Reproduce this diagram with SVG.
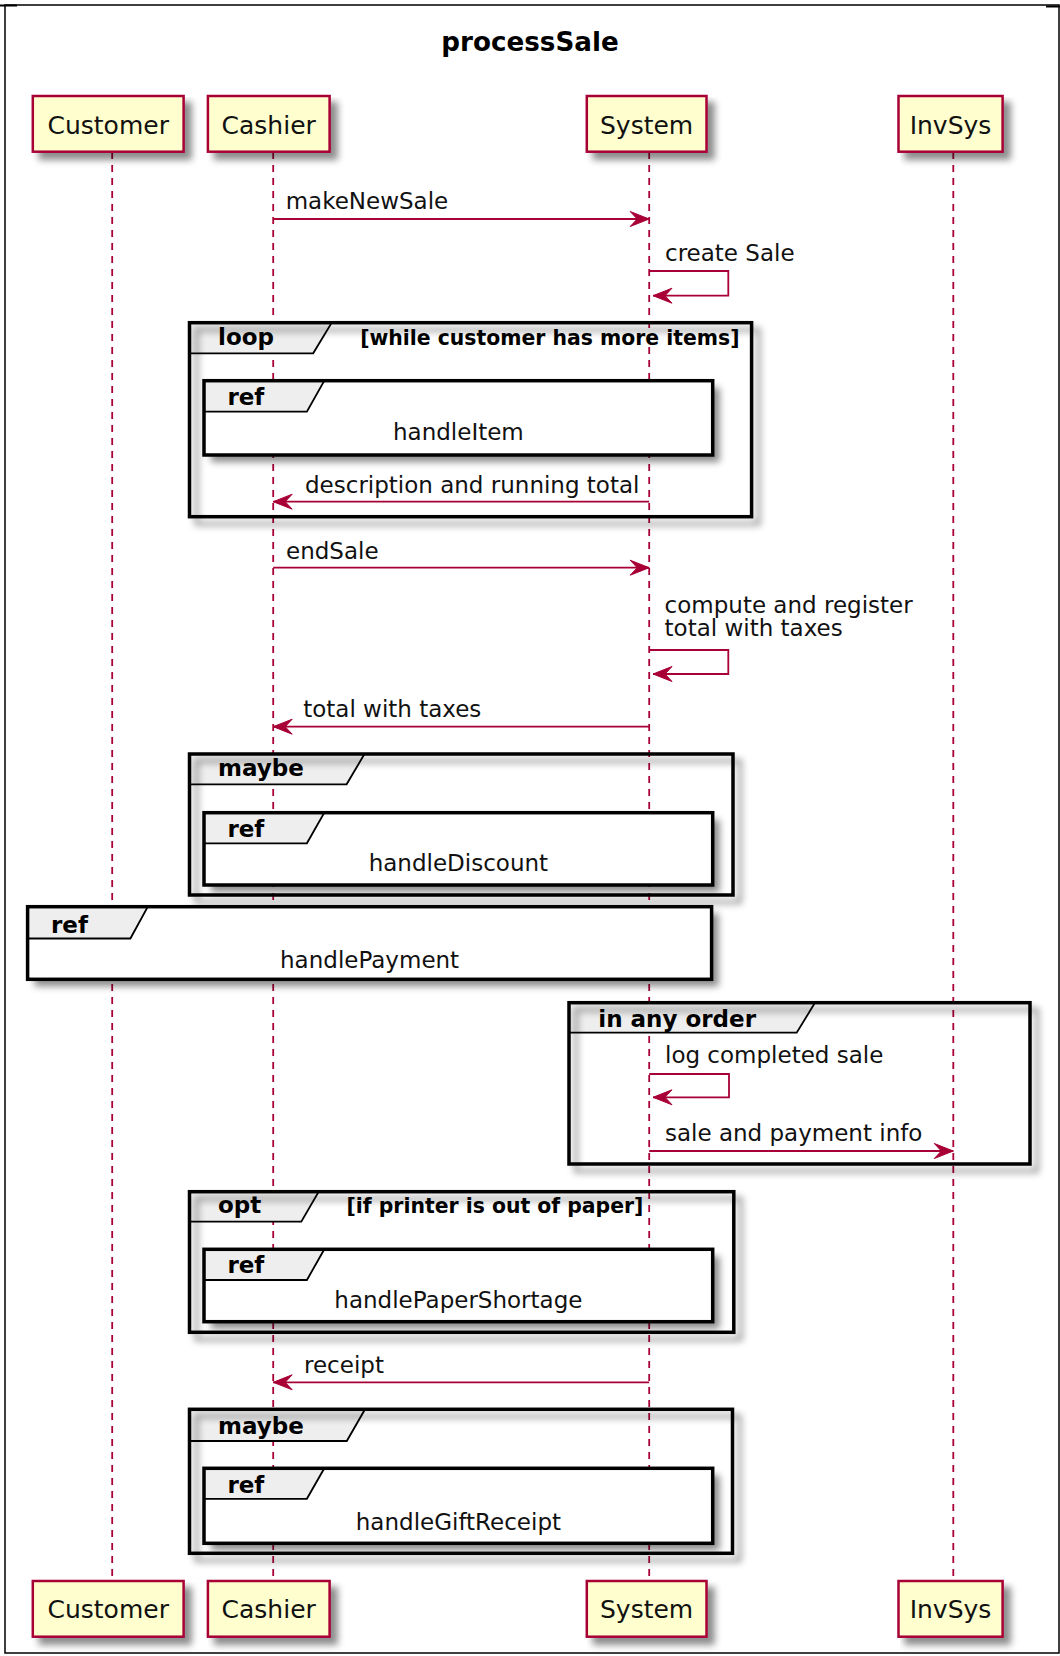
<svg xmlns="http://www.w3.org/2000/svg" width="1060" height="1656" viewBox="0 0 1060 1656">
<defs>
<filter id="sh" x="-5%" y="-10%" width="120%" height="140%">
<feGaussianBlur in="SourceAlpha" stdDeviation="3.5"/>
<feOffset dx="7" dy="7" result="b"/>
<feFlood flood-color="#000" flood-opacity="0.45"/>
<feComposite in2="b" operator="in"/>
<feMerge><feMergeNode/><feMergeNode in="SourceGraphic"/></feMerge>
</filter>
<marker id="ah" markerUnits="userSpaceOnUse" markerWidth="22" markerHeight="18" viewBox="-20 -9 22 18" refX="0" refY="0" orient="auto">
<path d="M0,0 L-19,-7.5 L-12,0 L-19,7.5 Z" fill="#A80036" stroke="#A80036" stroke-width="1"/>
</marker>
</defs>
<style>
.pbox{fill:#FEFECE;stroke:#A80036;stroke-width:2.5}
.ptxt{font-family:"DejaVu Sans",sans-serif;font-size:25px;fill:#111;text-anchor:middle}
.life{stroke:#A80036;stroke-width:1.8;stroke-dasharray:7,6;fill:none}
.msg{stroke:#A80036;stroke-width:1.8;fill:none;marker-end:url(#ah)}
.mtxt{font-family:"DejaVu Sans",sans-serif;font-size:23px;fill:#111}
.frame{fill:none;stroke:#000;stroke-width:3.5}
.reff{fill:#fff;stroke:none}
.tab{fill:#EEEEEE;stroke:#000;stroke-width:1.8}
.gl{font-family:"DejaVu Sans",sans-serif;font-weight:bold;font-size:23px;fill:#000}
.cond{font-family:"DejaVu Sans",sans-serif;font-weight:bold;font-size:20.4px;fill:#000}
.rtxt{font-family:"DejaVu Sans",sans-serif;font-size:23px;fill:#111;text-anchor:middle}
.title{font-family:"DejaVu Sans",sans-serif;font-weight:bold;font-size:26.2px;fill:#000;text-anchor:middle}
</style>
<g id="diagram-frame">
<rect x="5" y="5" width="1054" height="1648" fill="#fff" stroke="#000" stroke-width="1.5"/>
<line x1="0" y1="5.5" x2="17" y2="5.5" stroke="#000" stroke-width="2"/>
<line x1="1046" y1="6.5" x2="1060" y2="6.5" stroke="#000" stroke-width="2"/>
</g>
<g id="title"><text class="title" x="530" y="50.7">processSale</text></g>
<g id="lifelines">
<line class="life" x1="112.2" y1="152" x2="112.2" y2="1581"/>
<line class="life" x1="273.2" y1="152" x2="273.2" y2="1581"/>
<line class="life" x1="649.2" y1="152" x2="649.2" y2="1581"/>
<line class="life" x1="953.3" y1="152" x2="953.3" y2="1581"/>
</g>
<g id="customer">
<rect class="pbox" filter="url(#sh)" x="32.8" y="96" width="150.8" height="55.7"/>
<text class="ptxt" x="108.2" y="133.5">Customer</text>
<rect class="pbox" filter="url(#sh)" x="32.8" y="1581" width="150.8" height="55.7"/>
<text class="ptxt" x="108.2" y="1617.5">Customer</text>
</g>
<g id="cashier">
<rect class="pbox" filter="url(#sh)" x="207.9" y="96" width="121.7" height="55.7"/>
<text class="ptxt" x="268.7" y="133.5">Cashier</text>
<rect class="pbox" filter="url(#sh)" x="207.9" y="1581" width="121.7" height="55.7"/>
<text class="ptxt" x="268.7" y="1617.5">Cashier</text>
</g>
<g id="system">
<rect class="pbox" filter="url(#sh)" x="586.8" y="96" width="119.7" height="55.7"/>
<text class="ptxt" x="646.6" y="133.5">System</text>
<rect class="pbox" filter="url(#sh)" x="586.8" y="1581" width="119.7" height="55.7"/>
<text class="ptxt" x="646.6" y="1617.5">System</text>
</g>
<g id="invsys">
<rect class="pbox" filter="url(#sh)" x="898.5" y="96" width="104.1" height="55.7"/>
<text class="ptxt" x="950.5" y="133.5">InvSys</text>
<rect class="pbox" filter="url(#sh)" x="898.5" y="1581" width="104.1" height="55.7"/>
<text class="ptxt" x="950.5" y="1617.5">InvSys</text>
</g>
<g id="loop-group">
<path class="tab" d="M189.5,322.7 H331.7 L313.2,353.3 H189.5 Z"/>
<rect class="frame" filter="url(#sh)" x="189.5" y="322.7" width="562.1" height="194"/>
<text class="gl" x="218" y="345">loop</text>
<text class="cond" x="360.2" y="345">[while customer has more items]</text>
</g>
<g id="ref-handleItem">
<rect class="reff" filter="url(#sh)" x="204" y="380.7" width="508.7" height="74.3"/>
<path class="tab" d="M204,380.7 H324.3 L306.9,411.7 H204 Z"/>
<rect class="frame" x="204" y="380.7" width="508.7" height="74.3"/>
<text class="gl" x="227.4" y="405">ref</text>
<text class="rtxt" x="458.4" y="440">handleItem</text>
</g>
<g id="maybe-group-1">
<path class="tab" d="M189.5,754 H364.5 L346.6,784.3 H189.5 Z"/>
<rect class="frame" filter="url(#sh)" x="189.5" y="754" width="543.5" height="141"/>
<text class="gl" x="218" y="776">maybe</text>
</g>
<g id="ref-handleDiscount">
<rect class="reff" filter="url(#sh)" x="204" y="812.7" width="508.7" height="72.3"/>
<path class="tab" d="M204,812.7 H324.3 L306.9,843.3 H204 Z"/>
<rect class="frame" x="204" y="812.7" width="508.7" height="72.3"/>
<text class="gl" x="227.4" y="836.7">ref</text>
<text class="rtxt" x="458.4" y="871">handleDiscount</text>
</g>
<g id="ref-handlePayment">
<rect class="reff" filter="url(#sh)" x="27.6" y="906.7" width="684" height="72.6"/>
<path class="tab" d="M27.6,906.7 H147.8 L130.4,938.5 H27.6 Z"/>
<rect class="frame" x="27.6" y="906.7" width="684" height="72.6"/>
<text class="gl" x="51" y="933">ref</text>
<text class="rtxt" x="369.6" y="968.3">handlePayment</text>
</g>
<g id="any-order-group">
<path class="tab" d="M569,1002.7 H815 L796.7,1032.7 H569 Z"/>
<rect class="frame" filter="url(#sh)" x="569" y="1002.7" width="461" height="161.3"/>
<text class="gl" x="598.3" y="1026.7">in any order</text>
</g>
<g id="opt-group">
<path class="tab" d="M189.5,1191.7 H318.7 L301.3,1221.7 H189.5 Z"/>
<rect class="frame" filter="url(#sh)" x="189.5" y="1191.7" width="544.3" height="140.6"/>
<text class="gl" x="218" y="1213.3">opt</text>
<text class="cond" x="346.5" y="1213.3">[if printer is out of paper]</text>
</g>
<g id="ref-handlePaperShortage">
<rect class="reff" filter="url(#sh)" x="204" y="1249.3" width="508.7" height="72.4"/>
<path class="tab" d="M204,1249.3 H324.3 L306.9,1280 H204 Z"/>
<rect class="frame" x="204" y="1249.3" width="508.7" height="72.4"/>
<text class="gl" x="227.4" y="1272.7">ref</text>
<text class="rtxt" x="458.4" y="1307.7">handlePaperShortage</text>
</g>
<g id="maybe-group-2">
<path class="tab" d="M189.5,1409.3 H365 L346.8,1441 H189.5 Z"/>
<rect class="frame" filter="url(#sh)" x="189.5" y="1409.3" width="543" height="144"/>
<text class="gl" x="218" y="1434">maybe</text>
</g>
<g id="ref-handleGiftReceipt">
<rect class="reff" filter="url(#sh)" x="204" y="1468.3" width="508.7" height="75"/>
<path class="tab" d="M204,1468.3 H324.3 L306.9,1498.8 H204 Z"/>
<rect class="frame" x="204" y="1468.3" width="508.7" height="75"/>
<text class="gl" x="227.4" y="1493.3">ref</text>
<text class="rtxt" x="458.4" y="1530">handleGiftReceipt</text>
</g>
<g id="connectors">
<line class="msg" x1="273.2" y1="219" x2="649.2" y2="219"/>
<text class="mtxt" x="285.7" y="209">makeNewSale</text>
<path class="msg" d="M649.2,271 H728.3 V295.7 H653"/>
<text class="mtxt" x="665" y="261">create Sale</text>
<line class="msg" x1="649.2" y1="501.7" x2="273.2" y2="501.7"/>
<text class="mtxt" x="305" y="493">description and running total</text>
<line class="msg" x1="273.2" y1="567.7" x2="649.2" y2="567.7"/>
<text class="mtxt" x="286" y="559">endSale</text>
<path class="msg" d="M649.2,650 H728.3 V674 H653"/>
<text class="mtxt" x="664.6" y="612.5">compute and register</text>
<text class="mtxt" x="664.6" y="635.5">total with taxes</text>
<line class="msg" x1="649.2" y1="726.7" x2="273.2" y2="726.7"/>
<text class="mtxt" x="303.2" y="717">total with taxes</text>
<path class="msg" d="M649.2,1074 H729 V1097.3 H653"/>
<text class="mtxt" x="665" y="1062.7">log completed sale</text>
<line class="msg" x1="649.2" y1="1151" x2="953.3" y2="1151"/>
<text class="mtxt" x="665" y="1141">sale and payment info</text>
<line class="msg" x1="649.2" y1="1382.3" x2="273.2" y2="1382.3"/>
<text class="mtxt" x="304" y="1373">receipt</text>
</g>
</svg>
